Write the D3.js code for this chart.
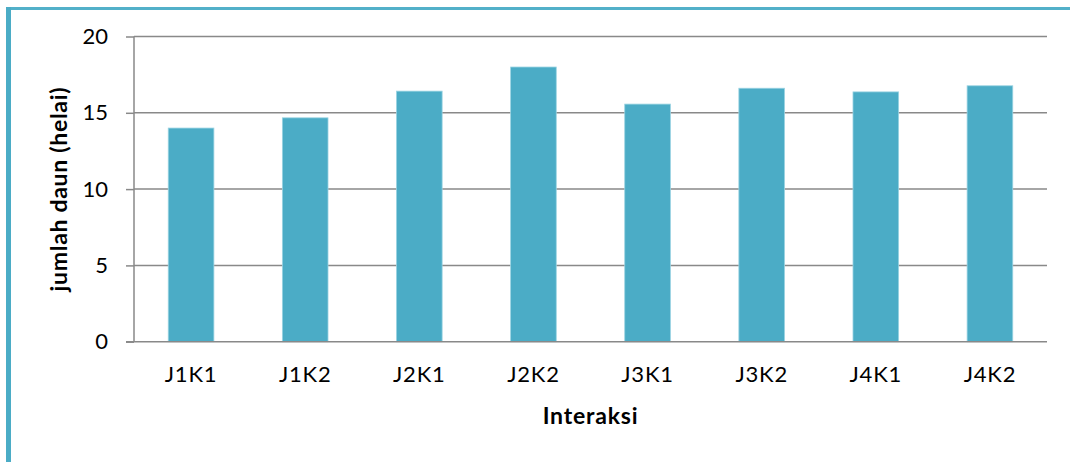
<!DOCTYPE html>
<html>
<head>
<meta charset="utf-8">
<script src="https://cdn.jsdelivr.net/npm/d3@7"></script>
<style>
  html, body { margin: 0; padding: 0; background: #fff; }
  svg { display: block; }
</style>
</head>
<body>
<svg id="chart" width="1070" height="462"></svg>
<script>
// Leaf count per treatment interaction
const categories = ["J1K1", "J1K2", "J2K1", "J2K2", "J3K1", "J3K2", "J4K1", "J4K2"];
const values = [14.0, 14.67, 16.42, 18.0, 15.57, 16.61, 16.37, 16.77];
const yTicks = [0, 5, 10, 15, 20];
const yTitle = "jumlah daun (helai)";
const xTitle = "Interaksi";

const svg = d3.select("#chart");
const W = 1070, H = 462;
const m = { left: 134, right: W - 1047, top: 36.5, bottom: H - 341.7 };
const font = "Lato, 'Open Sans', sans-serif";
const accent = "#4BACC6";
const grid = "#898989";

// frame accents
svg.append("rect").attr("x", 11).attr("y", 7).attr("width", W - 11).attr("height", 3).attr("fill", "#52b0c9");
svg.append("rect").attr("x", 6).attr("y", 7).attr("width", 5).attr("height", H - 7).attr("fill", accent);

const x = d3.scaleBand().domain(categories).range([m.left, W - m.right]).paddingInner(0.6).paddingOuter(0.3);
const y = d3.scaleLinear().domain([0, 20]).range([H - m.bottom, m.top]);

// horizontal gridlines
svg.append("g").selectAll("line").data(yTicks.filter(d => d > 0)).join("line")
  .attr("x1", m.left).attr("x2", W - m.right)
  .attr("y1", d => y(d)).attr("y2", d => y(d))
  .attr("stroke", grid).attr("stroke-width", 1.5);

// bars
svg.append("g").selectAll("rect").data(values).join("rect")
  .attr("x", (d, i) => x(categories[i]))
  .attr("y", d => y(d))
  .attr("width", x.bandwidth())
  .attr("height", d => y(0) - y(d))
  .attr("fill", accent)
  .attr("stroke", "#9ad3e2").attr("stroke-width", 0.8);

// y axis
const yAxis = svg.append("g").attr("transform", `translate(${m.left},0)`)
  .call(d3.axisLeft(y).tickValues(yTicks).tickSize(8).tickPadding(18).tickFormat(d3.format("d")));
yAxis.select(".domain").attr("stroke", grid).attr("stroke-width", 1.5).attr("d", `M0,${y(20)}V${y(0)}`);
yAxis.selectAll(".tick line").attr("stroke", grid).attr("stroke-width", 1.5);
yAxis.selectAll(".tick text").attr("font-family", font).attr("font-size", 22).attr("fill", "#000");

// x axis
const xAxis = svg.append("g").attr("transform", `translate(0,${y(0)})`)
  .call(d3.axisBottom(x).tickSize(0).tickPadding(25));
xAxis.select(".domain").attr("stroke", grid).attr("stroke-width", 1.5).attr("d", `M${m.left - 8},0H${W - m.right}`);
xAxis.selectAll(".tick text").attr("font-family", font).attr("font-size", 22)
  .attr("letter-spacing", 0.8).attr("fill", "#000");

// axis titles
svg.append("text")
  .attr("transform", `translate(67,${(y(0) + y(20)) / 2}) rotate(-90)`)
  .attr("text-anchor", "middle")
  .attr("font-family", font).attr("font-weight", "bold").attr("font-size", 23)
  .attr("letter-spacing", 0.7)
  .text(yTitle);

svg.append("text")
  .attr("x", (m.left + W - m.right) / 2).attr("y", 424)
  .attr("text-anchor", "middle")
  .attr("font-family", font).attr("font-weight", "bold").attr("font-size", 23)
  .attr("letter-spacing", 0.8)
  .text(xTitle);
</script>
</body>
</html>
